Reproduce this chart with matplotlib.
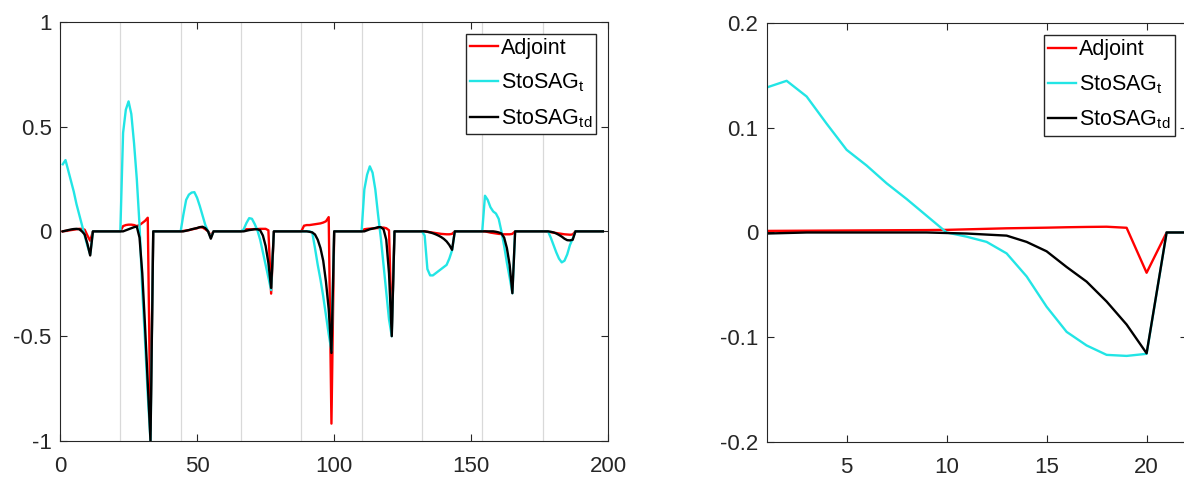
import numpy as np
import matplotlib
matplotlib.use('Agg')
import matplotlib.pyplot as plt

plt.rcParams['font.family'] = ['Liberation Sans', 'DejaVu Sans']
plt.rcParams['mathtext.default'] = 'regular'

# left panel: 9 control steps of 22 points each, only the first 11 are nonzero
seg_len = 22
adjoint_seg = [
    [0.0, 0.002, 0.004, 0.006, 0.008, 0.010, 0.012, 0.012, 0.008, -0.020, -0.045],
    [0.025, 0.030, 0.032, 0.032, 0.030, 0.025, 0.030, 0.040, 0.050, 0.065, -0.950],
    [0.002, 0.004, 0.006, 0.009, 0.012, 0.015, 0.020, 0.018, 0.010, 0.000, -0.020],
    [0.005, 0.010, 0.010, 0.010, 0.011, 0.011, 0.012, 0.012, 0.012, 0.005, -0.297],
    [0.027, 0.030, 0.030, 0.032, 0.034, 0.036, 0.038, 0.042, 0.048, 0.068, -0.917],
    [0.010, 0.012, 0.013, 0.014, 0.015, 0.016, 0.017, 0.018, 0.015, 0.005, -0.480],
    [0.0, -0.002, -0.004, -0.006, -0.008, -0.010, -0.012, -0.013, -0.014, -0.014, -0.012],
    [0.0, -0.003, -0.006, -0.008, -0.010, -0.012, -0.013, -0.014, -0.014, -0.014, -0.012],
    [0.0, -0.002, -0.004, -0.006, -0.008, -0.010, -0.012, -0.014, -0.015, -0.016, -0.015],
]
stosag_t_seg = [
    [0.32, 0.34, 0.29, 0.24, 0.19, 0.13, 0.08, 0.03, -0.02, -0.07, -0.11],
    [0.47, 0.58, 0.62, 0.56, 0.42, 0.25, 0.03, -0.28, -0.52, -0.78, -1.00],
    [0.08, 0.15, 0.175, 0.185, 0.187, 0.16, 0.12, 0.075, 0.03, 0.0, -0.03],
    [0.01, 0.04, 0.063, 0.06, 0.035, 0.005, -0.04, -0.10, -0.16, -0.22, -0.28],
    [0.0, 0.0, 0.0, -0.005, -0.08, -0.16, -0.23, -0.31, -0.40, -0.49, -0.57],
    [0.20, 0.27, 0.31, 0.28, 0.20, 0.08, -0.03, -0.16, -0.29, -0.42, -0.50],
    [-0.02, -0.18, -0.21, -0.21, -0.20, -0.19, -0.18, -0.17, -0.16, -0.13, -0.09],
    [0.17, 0.15, 0.115, 0.095, 0.085, 0.06, 0.0, -0.07, -0.15, -0.22, -0.295],
    [0.0, 0.0, -0.03, -0.065, -0.10, -0.13, -0.148, -0.14, -0.11, -0.065, -0.035],
]
stosag_td_seg = [
    [0.0, 0.003, 0.006, 0.009, 0.011, 0.012, 0.010, 0.0, -0.015, -0.06, -0.115],
    [0.0, 0.005, 0.010, 0.015, 0.020, 0.023, -0.03, -0.20, -0.45, -0.72, -1.00],
    [0.0, 0.003, 0.006, 0.010, 0.013, 0.016, 0.020, 0.022, 0.015, 0.0, -0.035],
    [0.0, 0.003, 0.006, 0.008, 0.010, 0.010, 0.005, -0.02, -0.07, -0.15, -0.27],
    [0.0, 0.0, -0.002, -0.005, -0.015, -0.04, -0.08, -0.14, -0.24, -0.37, -0.58],
    [0.0, 0.005, 0.010, 0.013, 0.016, 0.020, 0.020, 0.010, -0.04, -0.20, -0.50],
    [0.0, -0.002, -0.005, -0.009, -0.014, -0.020, -0.027, -0.036, -0.048, -0.065, -0.088],
    [0.0, 0.0, 0.0, 0.0, -0.002, -0.005, -0.01, -0.03, -0.08, -0.16, -0.295],
    [0.0, 0.0, -0.002, -0.005, -0.010, -0.017, -0.025, -0.035, -0.042, -0.043, -0.040],
]

# right panel: one control step, 22 points
x_right = np.arange(1, 23)
adjoint_r = [0.0015, 0.0016, 0.0017, 0.0018, 0.0019, 0.002, 0.0021, 0.0022, 0.0023, 0.0025,
             0.003, 0.0035, 0.004, 0.0043, 0.0046, 0.005, 0.0053, 0.0055, 0.0045, -0.0385, 0.0, 0.0]
stosag_t_r = [0.1386, 0.145, 0.13, 0.104, 0.079, 0.064, 0.047, 0.032, 0.016, 0.0,
              -0.004, -0.009, -0.02, -0.042, -0.071, -0.095, -0.108, -0.117, -0.118, -0.116, 0.0, 0.0]
stosag_td_r = [-0.001, -0.0005, 0.0, 0.0, 0.0, 0.0, 0.0, 0.0, 0.0, -0.0005,
               -0.001, -0.002, -0.003, -0.009, -0.018, -0.033, -0.047, -0.066, -0.088, -0.1155, 0.0, 0.0]

labels = ['Adjoint', 'StoSAG$_{t}$', 'StoSAG$_{td}$']
colors = ['#ff0000', '#22e5e5', '#000000']
axcol = '#262626'


def build(segs):
    out = []
    for s in segs:
        out += s + [0.0] * (seg_len - len(s))
    return np.array(out)


def style(ax):
    ax.tick_params(direction='in', top=True, right=True, length=5, width=0.8,
                   colors=axcol, labelsize=16)
    ax.tick_params(axis='x', pad=11)
    ax.tick_params(axis='y', pad=6)
    for sp in ax.spines.values():
        sp.set_color(axcol)
        sp.set_linewidth(0.8)


def add_legend(ax):
    ax.legend(loc='upper right', fontsize=15.5, frameon=True, fancybox=False,
              edgecolor=axcol, framealpha=1, borderaxespad=0.55, handlelength=1.3,
              handletextpad=0.12, borderpad=0.2, labelspacing=0.6)


fig = plt.figure(figsize=(11.84, 4.79), dpi=100)

ax1 = fig.add_axes([0.0507, 0.0793, 0.4631, 0.8754])
x_left = np.arange(1, len(adjoint_seg) * seg_len + 1)
for k in range(1, len(adjoint_seg)):
    ax1.axvline(k * seg_len, color='#d9d9d9', lw=0.9, zorder=0)
for ys, c, lab in zip([adjoint_seg, stosag_t_seg, stosag_td_seg], colors, labels):
    ax1.plot(x_left, build(ys), color=c, lw=1.7, label=lab)
ax1.set_xlim(0, 200)
ax1.set_ylim(-1, 1)
ax1.set_xticks([0, 50, 100, 150, 200])
ax1.set_yticks([-1, -0.5, 0, 0.5, 1])
ax1.set_yticklabels(['-1', '-0.5', '0', '0.5', '1'])
style(ax1)
add_legend(ax1)

ax2 = fig.add_axes([0.6475, 0.0779, 0.3547, 0.8735])
for ys, c, lab in zip([adjoint_r, stosag_t_r, stosag_td_r], colors, labels):
    ax2.plot(x_right, ys, color=c, lw=1.7, label=lab)
ax2.set_xlim(1, 22)
ax2.set_ylim(-0.2, 0.2)
ax2.set_xticks([5, 10, 15, 20])
ax2.set_yticks([-0.2, -0.1, 0, 0.1, 0.2])
ax2.set_yticklabels(['-0.2', '-0.1', '0', '0.1', '0.2'])
style(ax2)
add_legend(ax2)

fig.savefig('out.png', dpi=100)
